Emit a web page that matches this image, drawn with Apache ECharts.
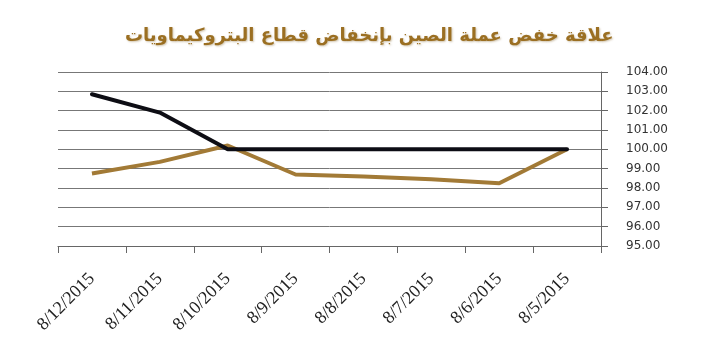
<!DOCTYPE html>
<html>
<head>
<meta charset="utf-8">
<script src="https://cdn.jsdelivr.net/npm/echarts@6/dist/echarts.min.js"></script>
<style>html,body{margin:0;padding:0;background:#fff;}#c{width:702px;height:351px;}</style>
</head>
<body>
<div id="c"></div>
<script>
const titleText = 'علاقة خفض عملة الصين بإنخفاض قطاع البتروكيماويات';
const categories = ['8/12/2015','8/11/2015','8/10/2015','8/9/2015','8/8/2015','8/7/2015','8/6/2015','8/5/2015'];
const blackSeries = [102.85, 101.9, 100.0, 100.0, 100.0, 100.0, 100.0, 100.0];
const brownSeries = [98.75, 99.35, 100.2, 98.7, 98.6, 98.45, 98.25, 100.0];
const yMin = 95, yMax = 104, yInterval = 1;

const chart = echarts.init(document.getElementById('c'), null, {renderer:'canvas'});
chart.setOption({
  animation: false,
  backgroundColor: '#fff',
  title: {
    text: titleText,
    left: 120,
    top: 22,
    textStyle: {
      fontFamily: 'DejaVu Sans',
      fontSize: 18,
      fontWeight: 'bold',
      color: '#9b6f22',
      textShadowColor: 'rgba(120,90,30,0.35)',
      textShadowBlur: 2,
      textShadowOffsetX: 1,
      textShadowOffsetY: 1
    }
  },
  grid: { left: 58, right: 101, top: 72, bottom: 105 },
  xAxis: {
    type: 'category',
    data: categories,
    boundaryGap: true,
    axisLine: { show: true, lineStyle: { color: '#666', width: 1 } },
    axisTick: { show: true, length: 7, alignWithLabel: false, lineStyle: { color: '#666' } },
    axisLabel: {
      rotate: 45,
      margin: 30,
      fontFamily: 'Liberation Serif',
      fontSize: 18,
      color: '#222'
    },
    splitLine: { show: false }
  },
  yAxis: {
    type: 'value',
    position: 'right',
    min: yMin, max: yMax, interval: yInterval,
    axisLine: { show: true, lineStyle: { color: '#666', width: 1 } },
    axisTick: { show: true, inside: false, length: 7, lineStyle: { color: '#666' } },
    axisLabel: {
      margin: 25,
      fontFamily: 'DejaVu Sans',
      fontSize: 12,
      color: '#333',
      formatter: v => v.toFixed(2)
    },
    splitLine: { show: true, lineStyle: { color: '#777', width: 1 } }
  },
  series: [
    {
      type: 'line',
      data: brownSeries,
      symbol: 'none',
      lineStyle: { color: '#a27a36', width: 4 },
      z: 2
    },
    {
      type: 'line',
      data: blackSeries,
      symbol: 'none',
      lineStyle: { color: '#0d0d14', width: 4, cap: 'round' },
      z: 3
    }
  ]
});
</script>
</body>
</html>
